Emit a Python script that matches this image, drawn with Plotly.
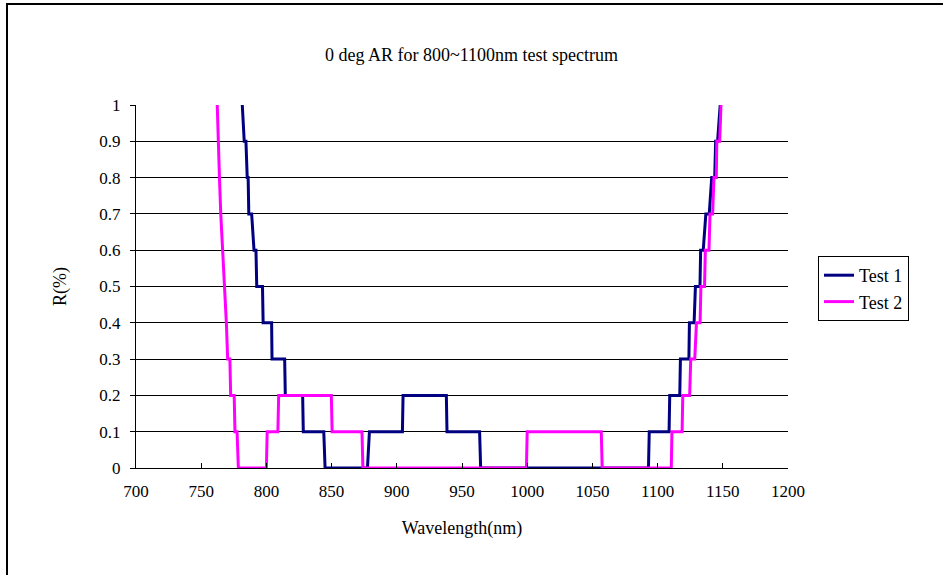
import plotly.graph_objects as go

# Test 1 (navy) vertices: wavelength (nm), R (%)
test1_wl = [781.5, 783.0, 784.3, 785.3, 786.0, 786.5, 788.7, 790.5, 792.0, 792.6, 797.0,
            797.5, 804.0, 804.3, 814.0, 814.5, 827.8, 828.3, 844.0, 845.0, 877.5,
            879.0, 904.3, 904.8, 938.0, 938.5, 963.5, 964.3, 1093.0, 1093.6, 1108.8,
            1109.3, 1117.0, 1117.5, 1124.0, 1124.4, 1128.0, 1129.0, 1132.5, 1133.0, 1135.0,
            1137.0, 1139.6, 1141.5, 1143.8, 1144.5, 1146.0, 1148.0]
test1_r = [1.0, 0.9, 0.9, 0.8, 0.8, 0.7, 0.7, 0.6, 0.6, 0.5, 0.5,
           0.4, 0.4, 0.3, 0.3, 0.2, 0.2, 0.1, 0.1, 0.0, 0.0,
           0.1, 0.1, 0.2, 0.2, 0.1, 0.1, 0.0, 0.0, 0.1, 0.1,
           0.2, 0.2, 0.3, 0.3, 0.4, 0.4, 0.5, 0.5, 0.6, 0.6,
           0.7, 0.7, 0.8, 0.8, 0.9, 0.9, 1.0]

# Test 2 (magenta)
test2_wl = [762.3, 763.0, 764.0, 765.0, 766.5, 768.0, 769.3, 770.3, 772.0, 772.6, 775.3,
            775.9, 777.5, 778.5, 800.0, 800.6, 808.8, 809.4, 849.8, 850.4, 873.3,
            874.0, 999.4, 1000.0, 1056.8, 1057.5, 1110.5, 1111.0, 1118.8, 1119.3, 1124.6,
            1125.4, 1128.5, 1129.8, 1132.6, 1133.2, 1136.0, 1136.6, 1139.4, 1140.2, 1142.2,
            1143.2, 1145.0, 1145.4, 1147.6, 1148.6]
test2_r = [1.0, 0.9, 0.8, 0.7, 0.6, 0.5, 0.4, 0.3, 0.3, 0.2, 0.2,
           0.1, 0.1, 0.0, 0.0, 0.1, 0.1, 0.2, 0.2, 0.1, 0.1,
           0.0, 0.0, 0.1, 0.1, 0.0, 0.0, 0.1, 0.1, 0.2, 0.2,
           0.3, 0.3, 0.4, 0.4, 0.5, 0.5, 0.6, 0.6, 0.7, 0.7,
           0.8, 0.8, 0.9, 0.9, 1.0]

x_ticks = [700, 750, 800, 850, 900, 950, 1000, 1050, 1100, 1150, 1200]
y_ticks = [0, 0.1, 0.2, 0.3, 0.4, 0.5, 0.6, 0.7, 0.8, 0.9, 1.0]
y_ticktext = ["0", "0.1", "0.2", "0.3", "0.4", "0.5", "0.6", "0.7", "0.8", "0.9", "1"]

FONT = "'Liberation Serif', 'Times New Roman', 'DejaVu Serif', serif"
FS_TICK = 17
FS_TEXT = 18

fig = go.Figure()
fig.add_trace(go.Scatter(x=test1_wl, y=test1_r, mode="lines", name="Test 1",
                         line=dict(color="#000080", width=3)))
fig.add_trace(go.Scatter(x=test2_wl, y=test2_r, mode="lines", name="Test 2",
                         line=dict(color="#FF00FF", width=3)))

fig.update_layout(
    width=943, height=575,
    margin=dict(l=136, r=155, t=105, b=107),
    paper_bgcolor="white", plot_bgcolor="white",
    font=dict(family=FONT, size=FS_TICK, color="black"),
    title=dict(text="0 deg AR for 800~1100nm test spectrum", x=0.5, xanchor="center",
               y=1 - 55 / 575, yanchor="middle", yref="container",
               font=dict(family=FONT, size=FS_TEXT, color="black")),
    showlegend=True,
    legend=dict(x=(818 - 136) / 652, xanchor="left", y=(468 - 256) / 363, yanchor="top",
                bordercolor="black", borderwidth=1, bgcolor="white", itemwidth=30,
                font=dict(family=FONT, size=FS_TEXT, color="black")),
    xaxis=dict(range=[700, 1200], tickvals=x_ticks, ticks="inside", ticklen=5,
               tickcolor="black", showline=True, linecolor="black", linewidth=1,
               showgrid=False, zeroline=False, ticklabelstandoff=8,
               title=dict(text="Wavelength(nm)", standoff=20,
                          font=dict(family=FONT, size=FS_TEXT))),
    yaxis=dict(range=[0, 1], tickvals=y_ticks, ticktext=y_ticktext, ticks="outside",
               ticklen=5, tickcolor="black", showline=True, linecolor="black", linewidth=1,
               showgrid=True, gridcolor="black", gridwidth=1, zeroline=False,
               ticklabelstandoff=6,
               title=dict(text="R(%)", standoff=28, font=dict(family=FONT, size=FS_TEXT))),
)

# outer chart frame (cropped at right/bottom in the reference)
fig.add_shape(type="rect", xref="paper", yref="paper",
              x0=(7 - 136) / 652, x1=2.0, y0=-1.0, y1=(468 - 4) / 363,
              line=dict(color="black", width=2), fillcolor="rgba(0,0,0,0)", layer="above")

fig.write_html("out.html")
